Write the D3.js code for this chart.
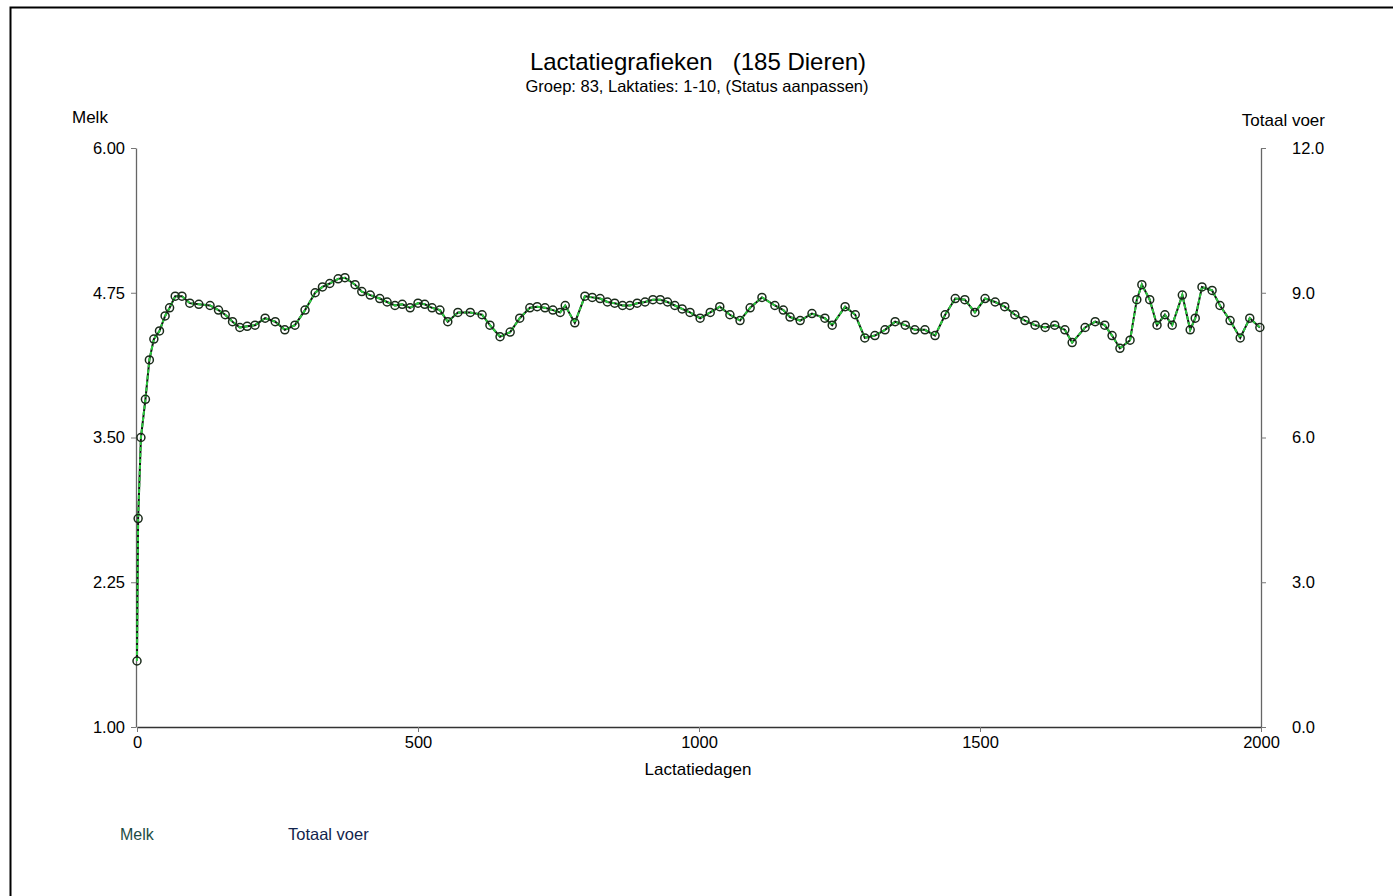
<!DOCTYPE html>
<html>
<head>
<meta charset="utf-8">
<script src="https://cdn.jsdelivr.net/npm/d3@7"></script>
<style>
  body { margin: 0; background: #fff; }
  text { font-family: "Liberation Sans", Arial, sans-serif; }
</style>
</head>
<body>
<div id="chart"></div>
<script>
'use strict';

// lactation days and average milk
const days = [0, 2, 7, 15, 22, 30, 40, 50, 58, 68, 80, 94, 110, 130, 145, 157, 170, 183, 196, 210, 228, 246, 263, 281, 299, 317, 330, 343, 358, 370, 388, 400, 415, 432, 445, 459, 472, 486, 500, 512, 525, 539, 553, 571, 593, 614, 628, 646, 664, 681, 699, 712, 726, 740, 753, 762, 779, 797, 810, 824, 837, 850, 864, 877, 890, 904, 918, 931, 944, 957, 970, 984, 1002, 1020, 1037, 1055, 1073, 1091, 1112, 1135, 1150, 1162, 1180, 1201, 1224, 1237, 1260, 1278, 1295, 1313, 1331, 1349, 1367, 1384, 1402, 1420, 1438, 1456, 1473, 1491, 1509, 1527, 1544, 1562, 1580, 1598, 1616, 1633, 1651, 1664, 1687, 1705, 1722, 1735, 1749, 1767, 1779, 1788, 1802, 1815, 1829, 1842, 1860, 1874, 1883, 1895, 1913, 1927, 1945, 1963, 1980, 1998];
const melk = [1.57, 2.80, 3.50, 3.83, 4.17, 4.35, 4.42, 4.55, 4.62, 4.72, 4.72, 4.66, 4.65, 4.64, 4.60, 4.56, 4.50, 4.45, 4.46, 4.47, 4.53, 4.50, 4.43, 4.47, 4.60, 4.75, 4.80, 4.83, 4.87, 4.88, 4.82, 4.76, 4.73, 4.70, 4.67, 4.64, 4.65, 4.62, 4.66, 4.65, 4.62, 4.60, 4.50, 4.58, 4.58, 4.56, 4.47, 4.37, 4.41, 4.53, 4.62, 4.63, 4.62, 4.60, 4.58, 4.64, 4.49, 4.72, 4.71, 4.70, 4.67, 4.66, 4.64, 4.64, 4.66, 4.67, 4.69, 4.69, 4.67, 4.64, 4.61, 4.58, 4.53, 4.58, 4.63, 4.56, 4.51, 4.62, 4.71, 4.64, 4.60, 4.54, 4.51, 4.57, 4.53, 4.47, 4.63, 4.56, 4.36, 4.38, 4.43, 4.50, 4.47, 4.43, 4.43, 4.38, 4.56, 4.70, 4.69, 4.58, 4.70, 4.67, 4.63, 4.56, 4.51, 4.47, 4.45, 4.47, 4.43, 4.32, 4.45, 4.50, 4.47, 4.38, 4.27, 4.34, 4.69, 4.82, 4.69, 4.47, 4.56, 4.47, 4.73, 4.43, 4.53, 4.80, 4.77, 4.64, 4.51, 4.36, 4.53, 4.45];

const xTicks = [0, 500, 1000, 1500, 2000];
const melkTicks = [1.0, 2.25, 3.5, 4.75, 6.0];
const voerTicks = [0, 3, 6, 9, 12];

const W = 1393, H = 896;
const m = { left: 137, right: 1261, top: 148, bottom: 727 };

const svg = d3.select('#chart').append('svg')
  .attr('width', W).attr('height', H);

// frame
svg.append('path')
  .attr('d', `M10.5,${H} V7.5 H${W}`)
  .attr('fill', 'none').attr('stroke', '#000').attr('stroke-width', 2);

const x = d3.scaleLinear().domain([0, 2000]).range([m.left, m.right]);
const yL = d3.scaleLinear().domain([1, 6]).range([m.bottom, m.top]);
const yR = d3.scaleLinear().domain([0, 12]).range([m.bottom, m.top]);

// titles
svg.append('text').attr('x', 698).attr('y', 70).attr('text-anchor', 'middle')
  .attr('font-size', 24).attr('fill', '#000')
  .attr('xml:space', 'preserve')
  .text('Lactatiegrafieken   (185 Dieren)');
svg.append('text').attr('x', 697).attr('y', 92).attr('text-anchor', 'middle')
  .attr('font-size', 16.5).attr('fill', '#000')
  .text('Groep: 83, Laktaties: 1-10, (Status aanpassen)');

svg.append('text').attr('x', 72).attr('y', 123).attr('font-size', 17)
  .attr('fill', '#000').text('Melk');
svg.append('text').attr('x', 1325).attr('y', 126).attr('text-anchor', 'end')
  .attr('font-size', 17).attr('fill', '#000').text('Totaal voer');

// axes
const axisStyle = (g) => {
  g.select('.domain').attr('stroke', '#666').attr('stroke-width', 1.3);
  g.selectAll('.tick line').attr('stroke', '#777');
  g.selectAll('.tick text').attr('font-size', 16.5).attr('fill', '#000')
    .attr('font-family', '"Liberation Sans", Arial, sans-serif');
};

svg.append('g')
  .attr('transform', `translate(${m.left - 1},0)`)
  .call(d3.axisLeft(yL).tickValues(melkTicks).tickFormat(d3.format('.2f'))
    .tickSize(5).tickPadding(6).tickSizeOuter(0))
  .call(axisStyle);

svg.append('g')
  .attr('transform', `translate(${m.right},0)`)
  .call(d3.axisRight(yR).tickValues(voerTicks).tickFormat(d3.format('.1f'))
    .tickSize(5).tickPadding(26).tickSizeOuter(0))
  .call(axisStyle);

svg.append('g')
  .attr('transform', `translate(0,${m.bottom})`)
  .call(d3.axisBottom(x).tickValues(xTicks).tickFormat(d3.format('d'))
    .tickSize(5).tickPadding(4).tickSizeOuter(0))
  .call(axisStyle)
  .call((g) => g.select('.domain').attr('stroke', '#333'));

svg.append('text').attr('x', 698).attr('y', 775).attr('text-anchor', 'middle')
  .attr('font-size', 17).attr('fill', '#000').text('Lactatiedagen');

// milk line
const pts = days.map((d, i) => ({ d, v: melk[i] }));
const line = d3.line().x((p) => x(p.d)).y((p) => yL(p.v));

svg.append('path').datum(pts).attr('d', line)
  .attr('fill', 'none').attr('stroke', '#111').attr('stroke-width', 2);
svg.append('path').datum(pts).attr('d', line)
  .attr('fill', 'none').attr('stroke', '#2ecc40').attr('stroke-width', 2)
  .attr('stroke-dasharray', '4,2');

svg.append('g').selectAll('circle').data(pts).enter().append('circle')
  .attr('cx', (p) => x(p.d)).attr('cy', (p) => yL(p.v)).attr('r', 4)
  .attr('fill', 'none').attr('stroke', '#1a2a1a').attr('stroke-width', 1.5);

// legend
svg.append('text').attr('x', 120).attr('y', 840).attr('font-size', 16)
  .attr('fill', '#1d4d45').text('Melk');
svg.append('text').attr('x', 288).attr('y', 840).attr('font-size', 16.5)
  .attr('fill', '#12244d').text('Totaal voer');
</script>
</body>
</html>
